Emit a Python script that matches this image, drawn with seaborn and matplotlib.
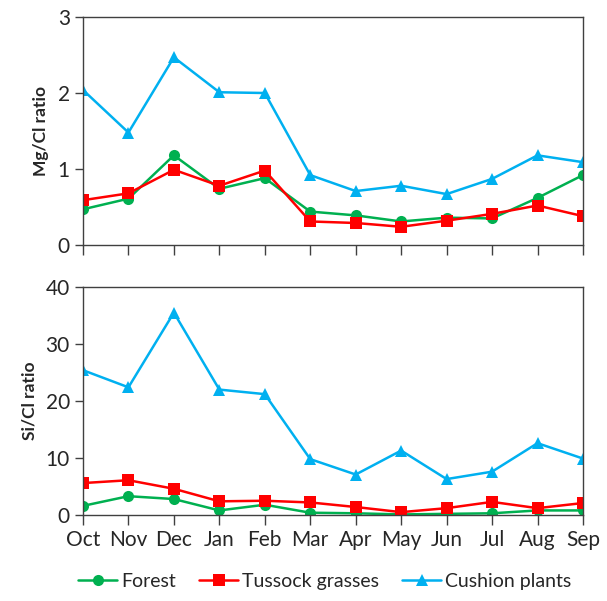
import numpy as np
import pandas as pd
import seaborn as sns
import matplotlib.pyplot as plt

months = ["Oct", "Nov", "Dec", "Jan", "Feb", "Mar", "Apr", "May", "Jun", "Jul", "Aug", "Sep"]
sites = ["Forest", "Tussock grasses", "Cushion plants"]

mg_forest = [0.47, 0.61, 1.18, 0.74, 0.88, 0.44, 0.39, 0.31, 0.36, 0.35, 0.62, 0.92]
mg_tussock = [0.59, 0.68, 0.99, 0.78, 0.98, 0.31, 0.29, 0.24, 0.32, 0.41, 0.52, 0.38]
mg_cushion = [2.04, 1.48, 2.47, 2.01, 2.00, 0.92, 0.71, 0.78, 0.67, 0.87, 1.18, 1.09]

si_forest = [1.6, 3.3, 2.8, 0.8, 1.8, 0.4, 0.3, 0.1, 0.2, 0.3, 0.8, 0.8]
si_tussock = [5.6, 6.1, 4.6, 2.4, 2.5, 2.2, 1.4, 0.5, 1.2, 2.3, 1.2, 2.1]
si_cushion = [25.4, 22.4, 35.5, 22.0, 21.2, 9.8, 7.1, 11.3, 6.3, 7.6, 12.6, 9.9]

colors = {"Forest": "#00B050", "Tussock grasses": "#FF0000", "Cushion plants": "#00B0F0"}
markers = {"Forest": "o", "Tussock grasses": "s", "Cushion plants": "^"}

sns.set_style("ticks")
plt.rcParams["font.family"] = ["Lato", "DejaVu Sans"]


def long_df(a, b, c):
    rows = []
    for name, vals in zip(sites, [a, b, c]):
        for i, v in enumerate(vals):
            rows.append({"month": i, "site": name, "value": v})
    return pd.DataFrame(rows)


mg_df = long_df(mg_forest, mg_tussock, mg_cushion)
si_df = long_df(si_forest, si_tussock, si_cushion)

fig = plt.figure(figsize=(6.07, 6.01), dpi=100)
ax1 = fig.add_axes([0.1367, 0.5923, 0.8237, 0.3794])
ax2 = fig.add_axes([0.1367, 0.1431, 0.8237, 0.3794])

for ax, df, ymax, label in [(ax1, mg_df, 3, "Mg/Cl ratio"), (ax2, si_df, 40, "Si/Cl ratio")]:
    sns.lineplot(data=df, x="month", y="value", hue="site", style="site",
                 palette=colors, markers=markers, dashes=False, linewidth=1.8,
                 markersize=8, markeredgewidth=0, ax=ax, legend=(ax is ax2))
    ax.set_xlim(0, 11)
    ax.set_ylim(0, ymax)
    ax.set_xticks(range(12))
    ax.set_ylabel(label, fontsize=12.5, fontweight="bold", labelpad=6)
    ax.set_xlabel("")
    ax.tick_params(axis="both", labelsize=15, width=1, color="#404040", labelcolor="#262626")
    ax.tick_params(axis="x", length=7)
    ax.tick_params(axis="y", length=6)
    for s in ax.spines.values():
        s.set_color("#404040")
        s.set_linewidth(1)

ax1.set_yticks([0, 1, 2, 3])
ax1.set_xticklabels([])
ax2.set_yticks([0, 10, 20, 30, 40])
ax2.set_xticklabels(months)

handles, labels = ax2.get_legend_handles_labels()
ax2.get_legend().remove()
fig.legend(handles, labels, loc="center", bbox_to_anchor=(0.535, 0.033), ncol=3,
           frameon=False, fontsize=14, handlelength=2.0, handletextpad=0.2, columnspacing=1.2,
           labelcolor="#262626")

fig.savefig("out.png", dpi=100)
